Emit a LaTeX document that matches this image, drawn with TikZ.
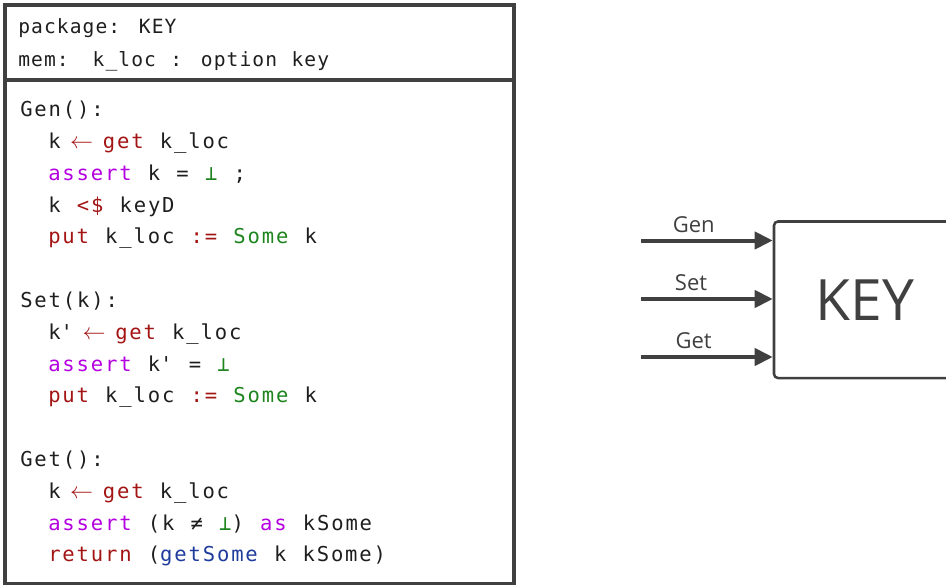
\documentclass[tikz,border=0pt]{standalone}
\usepackage{fontspec}
\usepackage{xcolor}
\usetikzlibrary{arrows.meta,positioning}

\newfontfamily\hdrfont{DejaVu Sans Mono}[LetterSpace=5.5,WordSpace={1.12,0,0}]
\newfontfamily\codefont{DejaVu Sans Mono}[LetterSpace=9,WordSpace={1.14,0,0}]
\newfontfamily\labelfont{Open Sans}

\definecolor{ink}{HTML}{1E1E1E}
\definecolor{frame}{HTML}{404040}
\definecolor{kwred}{HTML}{A31515}
\definecolor{ctlpink}{HTML}{B400E0}
\definecolor{cstgreen}{HTML}{1E841E}
\definecolor{fnblue}{HTML}{1F3C9C}

\newcommand{\pkw}[1]{\textcolor{kwred}{#1}}
\newcommand{\pctl}[1]{\textcolor{ctlpink}{#1}}
\newcommand{\pcst}[1]{\textcolor{cstgreen}{#1}}
\newcommand{\pfn}[1]{\textcolor{fnblue}{#1}}
% the arrow takes three cells: space, arrow, space
\newcommand{\plarr}{\makebox[31.7pt][c]{\fontsize{17}{17}\selectfont$\leftarrow$}}

\begin{document}
\begin{tikzpicture}[x=0.75pt, y=-0.75pt,
    pkgbox/.style={draw=frame, line width=3pt, anchor=north west, inner sep=0pt, outer sep=0pt, minimum width=381.75pt},
    hdrline/.style={anchor=base west, inner sep=0pt, text=ink, font=\hdrfont\fontsize{14.7}{17}\selectfont},
    codeline/.style={anchor=base west, inner sep=0pt, text=ink, font=\codefont\fontsize{15.4}{18}\selectfont},
    pkgnode/.style={draw=frame, line width=1.9pt, rounded corners=3pt, minimum width=136.5pt, minimum height=117.4pt, inner sep=0pt, text=frame, font=\labelfont\fontsize{42.75}{48}\selectfont},
    callarrow/.style={draw=frame, line width=3pt, -{Triangle[length=13.5pt,width=12.75pt]}},
    calllabel/.style={inner sep=0pt, text=frame, font=\labelfont\fontsize{16.5}{20}\selectfont}]
\useasboundingbox (0,0) rectangle (946,585);
\clip (0,0) rectangle (946,585);

% Package box
\node[pkgbox, minimum height=55.9pt] (header) at (5,5) {};
\node[pkgbox, below=0pt of header, minimum height=378.4pt] (body) {};

% Header
\node[hdrline] (pkgname) at (18,34) {package: KEY};
\node[hdrline] (pkgmem) at (18,67) {mem:\hspace{18pt}k\_loc : option key};

% Gen
\node[codeline] (gen0) at (20,116.7) {Gen():};
\node[codeline] (gen1) at (48,148.5) {k\pkw{\plarr get} k\_loc};
\node[codeline] (gen2) at (48,180.3) {\pctl{assert} k = \pcst{⊥} ;};
\node[codeline] (gen3) at (48,212.1) {k \pkw{<\$} keyD};
\node[codeline] (gen4) at (48,243.9) {\pkw{put} k\_loc \pkw{:=} \pcst{Some} k};

% Set
\node[codeline] (set0) at (20,307.4) {Set(k):};
\node[codeline] (set1) at (48,339.2) {k\textquotesingle\pkw{\plarr get} k\_loc};
\node[codeline] (set2) at (48,371.0) {\pctl{assert} k\textquotesingle{} = \pcst{⊥}};
\node[codeline] (set3) at (48,402.8) {\pkw{put} k\_loc \pkw{:=} \pcst{Some} k};

% Get
\node[codeline] (get0) at (20,466.4) {Get():};
\node[codeline] (get1) at (48,498.2) {k\pkw{\plarr get} k\_loc};
\node[codeline] (get2) at (48,530.0) {\pctl{assert} (k ≠ \pcst{⊥}) \pctl{as} kSome};
\node[codeline] (get3) at (48,561.8) {\pkw{return} (\pfn{getSome} k kSome)};

% Package as a block
\node[pkgnode] (keybox) at (865,299.75) {KEY};

\coordinate (genin) at (641,240.5);
\coordinate (setin) at (641,299);
\coordinate (getin) at (641,357);

\draw[callarrow] (genin) -- (genin -| keybox.west) node[calllabel, pos=0.4, above=4.5pt] (genlbl) {Gen};
\draw[callarrow] (setin) -- (setin -| keybox.west) node[calllabel, pos=0.38, above=4.5pt] (setlbl) {Set};
\draw[callarrow] (getin) -- (getin -| keybox.west) node[calllabel, pos=0.4, above=4.5pt] (getlbl) {Get};
\end{tikzpicture}
\end{document}
